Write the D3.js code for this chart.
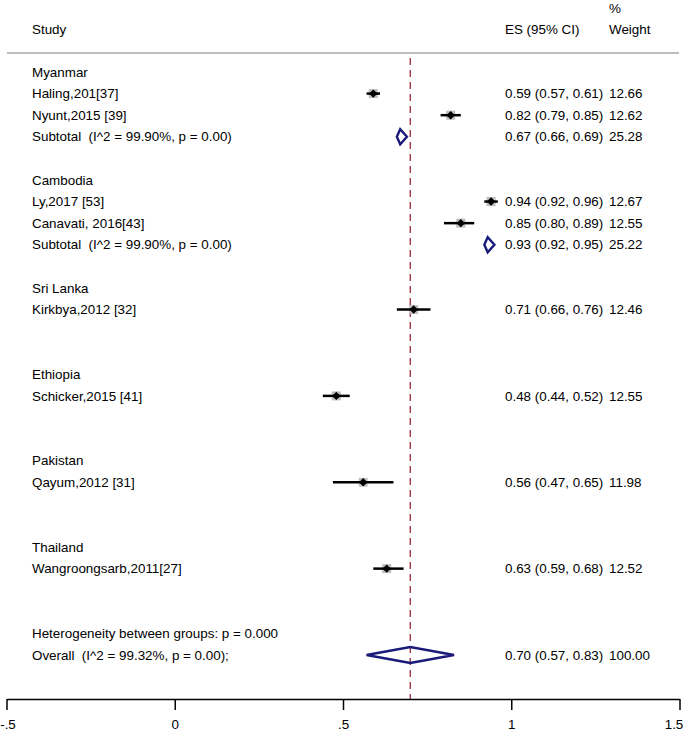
<!DOCTYPE html>
<html><head><meta charset="utf-8">
<script src="https://cdn.jsdelivr.net/npm/d3@7"></script>
<style>body{margin:0;background:#fff}svg{display:block}text{font-family:"Liberation Sans",Arial,sans-serif;font-size:13.4px;fill:#000;white-space:pre}</style>
</head><body><svg id="c" width="685" height="731"></svg>
<script>
const groups = ["Myanmar","Cambodia","Sri Lanka","Ethiopia","Pakistan","Thailand"];
const studies = ["Haling,201[37]","Nyunt,2015 [39]","Ly,2017 [53]","Canavati, 2016[43]","Kirkbya,2012 [32]","Schicker,2015 [41]","Qayum,2012 [31]","Wangroongsarb,2011[27]"];
const studyGroup = [0,0,1,1,2,3,4,5];
const es = [0.59,0.82,0.94,0.85,0.71,0.48,0.56,0.63];
const lo = [0.57,0.79,0.92,0.80,0.66,0.44,0.47,0.59];
const hi = [0.61,0.85,0.96,0.89,0.76,0.52,0.65,0.68];
const weight = [12.66,12.62,12.67,12.55,12.46,12.55,11.98,12.52];
const subGroup = [0,1];
const subLabel = ["Subtotal  (I^2 = 99.90%, p = 0.00)","Subtotal  (I^2 = 99.90%, p = 0.00)"];
const subEs = [0.67,0.93];
const subLo = [0.66,0.92];
const subHi = [0.69,0.95];
const subWeight = [25.28,25.22];
const hetLabel = "Heterogeneity between groups: p = 0.000";
const overallLabel = "Overall  (I^2 = 99.32%, p = 0.00);";
const overall = {es:0.70, lo:0.57, hi:0.83, w:100.00};
const xTicks = [-0.5,0,0.5,1,1.5];
const xTickLabels = ["-.5","0",".5","1","1.5"];

const svg = d3.select("#c");
const x = d3.scaleLinear().domain([-0.5,1.5]).range([6.5,679.5]);
const y = d3.scaleLinear().domain([0,27]).range([72,655]);
const f2 = d3.format(".2f");
const ci = (e,l,h)=>`${f2(e)} (${f2(l)}, ${f2(h)})`;

// build rows
const rows = [];
let r = 0;
groups.forEach((g,gi)=>{
  rows.push({type:"group",label:g,row:r++});
  studies.forEach((s,i)=>{ if(studyGroup[i]===gi) rows.push({type:"study",label:s,es:es[i],lo:lo[i],hi:hi[i],w:weight[i],row:r++}); });
  const si = subGroup.indexOf(gi);
  if(si>=0) rows.push({type:"sub",label:subLabel[si],es:subEs[si],lo:subLo[si],hi:subHi[si],w:subWeight[si],row:r++});
  else r++;
  r++;
});
rows.push({type:"het",label:hetLabel,row:r++});
rows.push({type:"overall",label:overallLabel,es:overall.es,lo:overall.lo,hi:overall.hi,w:overall.w,row:r++});

// header
svg.append("text").attr("x",32).attr("y",29).attr("dy","0.35em").text("Study");
svg.append("text").attr("x",505).attr("y",29).attr("dy","0.35em").text("ES (95% CI)");
svg.append("text").attr("x",609).attr("y",8).attr("dy","0.35em").text("%");
svg.append("text").attr("x",609).attr("y",29).attr("dy","0.35em").text("Weight");
svg.append("line").attr("x1",7).attr("x2",679).attr("y1",53).attr("y2",53).attr("stroke","#bdbdbd").attr("stroke-width",2);

// reference line
svg.append("line").attr("x1",x(overall.es)).attr("x2",x(overall.es)).attr("y1",58).attr("y2",699)
  .attr("stroke","#9b3a48").attr("stroke-width",1.4).attr("stroke-dasharray","7,5");

// labels
svg.selectAll("text.lab").data(rows).join("text").attr("class","lab")
  .attr("x",32).attr("y",d=>y(d.row)).attr("dy","0.35em").text(d=>d.label);
const valRows = rows.filter(d=>d.es!==undefined);
svg.selectAll("text.es").data(valRows).join("text").attr("class","es")
  .attr("x",505).attr("y",d=>y(d.row)).attr("dy","0.35em").text(d=>ci(d.es,d.lo,d.hi));
svg.selectAll("text.w").data(valRows).join("text").attr("class","w")
  .attr("x",609).attr("y",d=>y(d.row)).attr("dy","0.35em").text(d=>f2(d.w));

// study markers
const st = rows.filter(d=>d.type==="study");
svg.selectAll("rect.box").data(st).join("rect").attr("class","box")
  .attr("x",d=>x(d.es)-2.55*Math.sqrt(d.w)/2).attr("y",d=>y(d.row)-2.55*Math.sqrt(d.w)/2)
  .attr("width",d=>2.55*Math.sqrt(d.w)).attr("height",d=>2.55*Math.sqrt(d.w)).attr("fill","#bfbfbf");
svg.selectAll("line.ci").data(st).join("line").attr("class","ci")
  .attr("x1",d=>x(d.lo)).attr("x2",d=>x(d.hi)).attr("y1",d=>y(d.row)).attr("y2",d=>y(d.row))
  .attr("stroke","#000").attr("stroke-width",2.5);
svg.selectAll("path.pt").data(st).join("path").attr("class","pt")
  .attr("d",d=>{const cx=x(d.es),cy=y(d.row),s=4.2;return `M${cx-s},${cy}L${cx},${cy-s}L${cx+s},${cy}L${cx},${cy+s}Z`;})
  .attr("fill","#000");

// diamonds
const dm = rows.filter(d=>d.type==="sub"||d.type==="overall");
svg.selectAll("path.dia").data(dm).join("path").attr("class","dia")
  .attr("d",d=>{const cy=y(d.row),h=d.type==="overall"?8:7.5;return `M${x(d.lo)},${cy}L${x(d.es)},${cy-h}L${x(d.hi)},${cy}L${x(d.es)},${cy+h}Z`;})
  .attr("fill","none").attr("stroke","#1a1a7a").attr("stroke-width",2.4).attr("stroke-linejoin","miter");

// axis
const ax = svg.append("g").attr("transform","translate(0,699)")
  .call(d3.axisBottom(x).tickValues(xTicks).tickFormat((d,i)=>xTickLabels[i]).tickSize(11).tickSizeOuter(0));
ax.select(".domain").attr("stroke","#000").attr("stroke-width",1.5);
ax.selectAll(".tick line").attr("stroke","#000").attr("stroke-width",1.5);
ax.selectAll(".tick text").attr("font-size",13.4).attr("font-family","Liberation Sans, Arial, sans-serif").attr("fill","#000").attr("y",20)
  .attr("dx",(d,i)=> i===xTicks.length-1 ? -6 : (i===0 ? 1 : 0));
</script></body></html>
